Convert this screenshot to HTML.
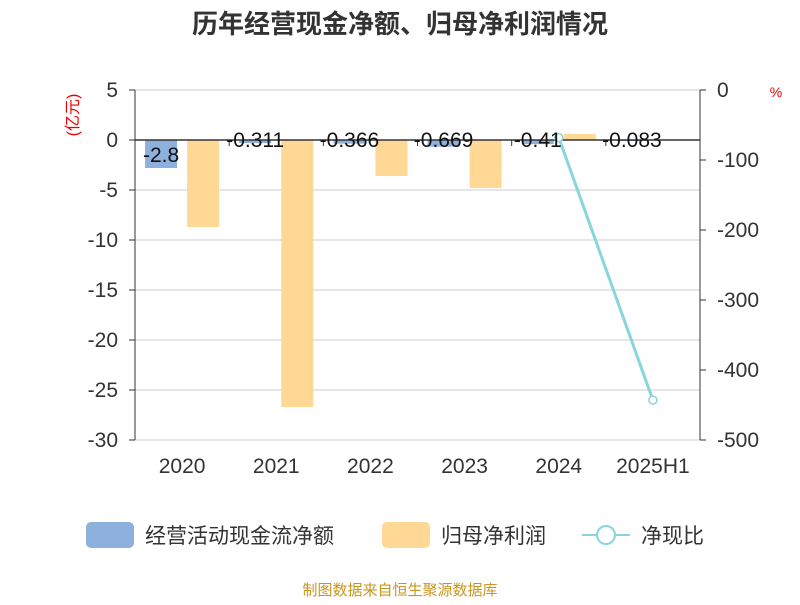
<!DOCTYPE html>
<html><head><meta charset="utf-8"><style>
body{margin:0;background:#fff;font-family:"Liberation Sans","Noto Sans CJK SC",sans-serif}
</style></head><body>
<svg width="800" height="600" xmlns="http://www.w3.org/2000/svg" font-family="Liberation Sans, Noto Sans CJK SC, sans-serif">
<text x="400" y="33" text-anchor="middle" font-size="26" font-weight="bold" fill="#333">历年经营现金净额、归母净利润情况</text>
<text transform="translate(78,115) rotate(-90)" text-anchor="middle" font-size="16" fill="#e00">(亿元)</text>
<text x="776" y="97" text-anchor="middle" font-size="14" fill="#e00">%</text>
<g id="grid"></g><g id="bars"></g><g id="axes"></g><g id="line"></g><g id="labels"></g>
<g>
<rect x="86" y="522" width="48" height="26" rx="5" fill="#8eb0dc"/>
<text x="145" y="543" font-size="21" fill="#333">经营活动现金流净额</text>
<rect x="382" y="522" width="48" height="26" rx="5" fill="#ffd896"/>
<text x="441" y="543" font-size="21" fill="#333">归母净利润</text>
<line x1="582" y1="535" x2="630" y2="535" stroke="#88d5dc" stroke-width="2"/>
<circle cx="606" cy="535" r="9" fill="#fff" stroke="#88d5dc" stroke-width="2"/>
<text x="641" y="543" font-size="21" fill="#333">净现比</text>
</g>
<text x="400" y="595" text-anchor="middle" font-size="15" fill="#c8961e">制图数据来自恒生聚源数据库</text>
</svg>
<script>
const categories=["2020","2021","2022","2023","2024","2025H1"];
const cashFlow=[-2.8,-0.311,-0.366,-0.669,-0.41,-0.083];
const cashLabels=["-2.8","-0.311","-0.366","-0.669","-0.41","-0.083"];
const netProfit=[-8.7,-26.7,-3.6,-4.8,0.6,null];
const ratio=[null,null,null,null,-68,-443];
const leftTicks=[5,0,-5,-10,-15,-20,-25,-30];
const rightTicks=[0,-100,-200,-300,-400,-500];
const NS="http://www.w3.org/2000/svg";
const X0=135,X1=700,cw=(X1-X0)/categories.length;
const yL=v=>140-v*10, yR=v=>90-v*0.7, xc=i=>X0+cw*(i+0.5);
function mk(p,t,a){const e=document.createElementNS(NS,t);for(const k in a)e.setAttribute(k,a[k]);document.getElementById(p).appendChild(e);return e;}
leftTicks.forEach(t=>{const y=yL(t);
 const g=mk("grid","line",{x1:X0,x2:X1,y1:y,y2:y,stroke:"#ccc"});
 
 
 const l=mk("axes","text",{x:X0-17,y:y+7,"text-anchor":"end","font-size":21,fill:"#333"});l.textContent=t;
 
 
 mk("axes","line",{x1:X0-6,x2:X0,y1:y,y2:y,stroke:"#333"});
});
rightTicks.forEach(t=>{const y=yR(t);
 const l=mk("axes","text",{x:X1+17,y:y+7,"font-size":21,fill:"#333"});l.textContent=t;
 
 
 mk("axes","line",{x1:X1,x2:X1+6,y1:y,y2:y,stroke:"#333"});
});
mk("axes","line",{x1:X0,x2:X0,y1:90,y2:440,stroke:"#333"});
mk("axes","line",{x1:X1,x2:X1,y1:90,y2:440,stroke:"#333"});
mk("axes","line",{x1:X0,x2:X1,y1:140,y2:140,stroke:"#333","stroke-width":1.5});
categories.forEach((c,i)=>{
 const l=mk("axes","text",{x:xc(i),y:473,"text-anchor":"middle","font-size":21,fill:"#333"});l.textContent=c;
 
 
 mk("axes","line",{x1:X0+cw*i,x2:X0+cw*i,y1:140,y2:146,stroke:"#333"});
 const v=cashFlow[i];
 const b=mk("bars","rect",{x:xc(i)-37,y:Math.min(yL(v),140),width:32,height:Math.max(Math.abs(v*10),1),fill:"#8eb0dc"});
 
 
 const p=netProfit[i];
 if(p!==null){const o=mk("bars","rect",{x:xc(i)+5,y:Math.min(yL(p),140),width:32,height:Math.abs(p*10),fill:"#ffd896"});
 
 }
 const t=mk("labels","text",{x:xc(i)-21,y:(v<-1?yL(v)/2+70+8:147),"text-anchor":"middle","font-size":21,fill:"#111"});t.textContent=cashLabels[i];
 
 
});
const pts=ratio.map((r,i)=>r===null?null:[xc(i),yR(r)]).filter(p=>p);
const pl=mk("line","polyline",{points:pts.map(p=>p.join(",")).join(" "),fill:"none",stroke:"#88d5dc","stroke-width":3});


pts.forEach(p=>{const c=mk("line","circle",{cx:p[0],cy:p[1],r:4,fill:"#fff",stroke:"#88d5dc","stroke-width":1.5});
 
 });
</script>
</body></html>
